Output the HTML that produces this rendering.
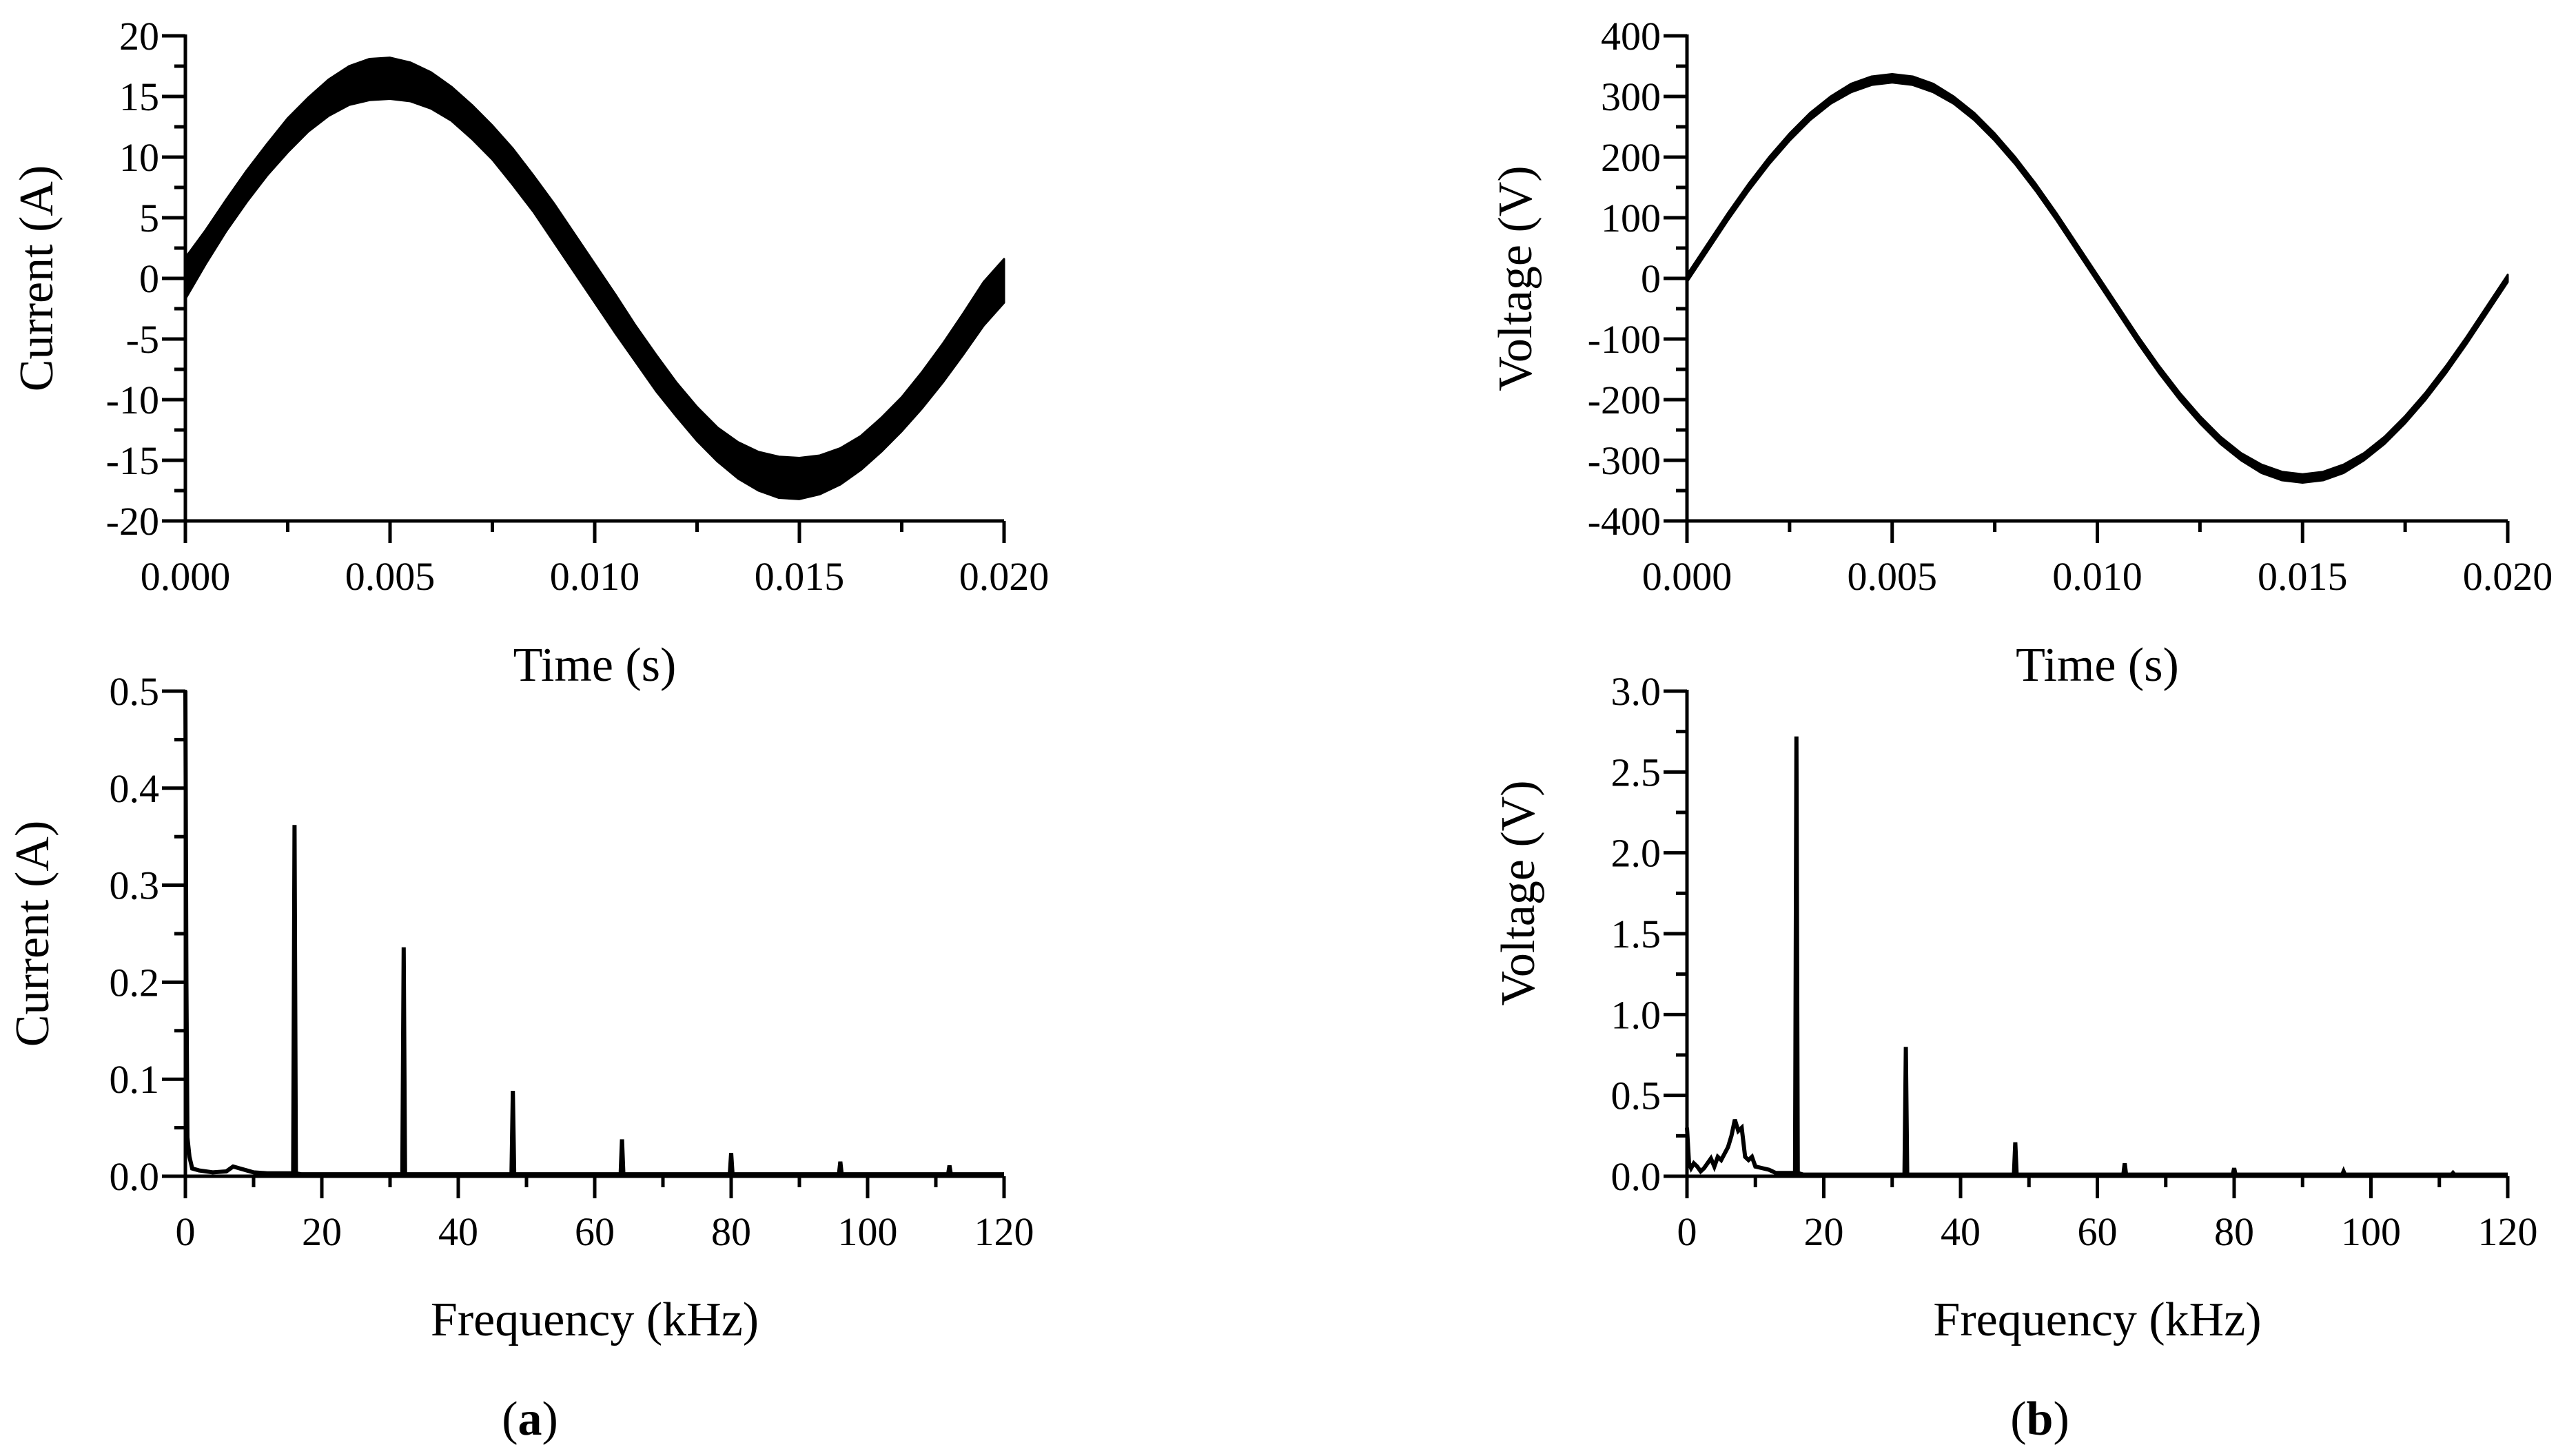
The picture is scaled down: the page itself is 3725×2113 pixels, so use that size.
<!DOCTYPE html>
<html><head><meta charset="utf-8">
<style>
html,body{margin:0;padding:0;background:#fff;}
svg{display:block;}
text{font-family:"Liberation Serif",serif;fill:#000;}
</style></head>
<body>
<svg id="fig" width="3725" height="2113" viewBox="0 0 3725 2113" xmlns="http://www.w3.org/2000/svg"></svg>
<script>
// ---- data ----
const timeStart = 0, timeStep = 0.0005;
const currentCentre = [0,2.6,5.2,7.6,9.8,11.8,13.5,14.9,15.9,16.4,16.5,16.2,15.5,14.4,12.9,11.2,9.2,7.0,4.6,2.1,-0.4,-2.9,-5.4,-7.8,-10.0,-12.0,-13.7,-15.0,-15.9,-16.4,-16.5,-16.2,-15.5,-14.4,-12.9,-11.2,-9.2,-7.0,-4.6,-2.1,-0.2];
const currentHalfBand = [1.7,1.4,1.3,1.3,1.3,1.4,1.4,1.5,1.6,1.7,1.7,1.6,1.5,1.4,1.4,1.4,1.5,1.5,1.6,1.6,1.6,1.6,1.5,1.5,1.4,1.4,1.4,1.5,1.6,1.7,1.7,1.6,1.5,1.4,1.4,1.4,1.5,1.6,1.7,1.8,1.8];
const voltageCentre = [0,51,102,150,194,233,267,294,314,326,330,326,314,294,267,233,194,150,102,51,0,-51,-102,-150,-194,-233,-267,-294,-314,-326,-330,-326,-314,-294,-267,-233,-194,-150,-102,-51,0];
const voltageHalfBand = [6,6,6,6,6,6,6,6,7,7,7,7,7,6,6,6,6,6,6,6,6,6,6,6,6,6,6,6,7,7,7,7,7,6,6,6,6,6,6,6,6];
const curSpecFreq = [0,0.15,0.3,0.6,1,2,4,6,7,8,9,10,12,15.8,16,16.2,17,20,25,31.8,32,32.2,35,40,47.8,48,48.2,55,63.8,64,64.2,70,79.8,80,80.2,90,95.8,96,96.2,105,111.8,112,112.2,120];
const curSpecAmp  = [0.5,0.2,0.04,0.02,0.008,0.006,0.004,0.005,0.01,0.008,0.006,0.004,0.003,0.003,0.362,0.003,0.002,0.002,0.002,0.002,0.236,0.002,0.002,0.002,0.002,0.088,0.002,0.002,0.002,0.038,0.002,0.002,0.002,0.024,0.002,0.002,0.002,0.015,0.002,0.002,0.002,0.011,0.002,0.002];
const volSpecFreq = [0,0.3,0.6,1,1.5,2,2.5,3,3.5,4,4.5,5,5.5,6,6.5,7,7.5,8,8.5,9,9.5,10,11,12,13,15.8,16,16.2,17,20,25,31.8,32,32.2,35,40,47.8,48,48.2,55,63.8,64,64.2,70,79.8,80,80.2,90,95.8,96,96.2,105,111.8,112,112.2,120];
const volSpecAmp  = [0.3,0.08,0.05,0.08,0.06,0.03,0.05,0.08,0.11,0.06,0.12,0.1,0.14,0.18,0.25,0.35,0.28,0.3,0.12,0.1,0.12,0.06,0.05,0.04,0.02,0.02,2.72,0.02,0.01,0.01,0.01,0.01,0.8,0.01,0.01,0.01,0.01,0.21,0.01,0.01,0.01,0.08,0.01,0.01,0.01,0.05,0.01,0.01,0.01,0.03,0.01,0.01,0.01,0.02,0.01,0.01];
const timeTicks = ["0.000","0.005","0.010","0.015","0.020"];
const freqTicks = ["0","20","40","60","80","100","120"];
const curTicks = ["-20","-15","-10","-5","0","5","10","15","20"];
const volTicks = ["-400","-300","-200","-100","0","100","200","300","400"];
const curSpecTicks = ["0.0","0.1","0.2","0.3","0.4","0.5"];
const volSpecTicks = ["0.0","0.5","1.0","1.5","2.0","2.5","3.0"];

const NS="http://www.w3.org/2000/svg";
const svg=document.getElementById('fig');
function el(tag,attrs,parent){const e=document.createElementNS(NS,tag);for(const k in attrs)e.setAttribute(k,attrs[k]);(parent||svg).appendChild(e);return e;}

function panel(o){
  const g=el('g',{});
  
  
  const sx=v=>o.x0+(v-o.xmin)/(o.xmax-o.xmin)*(o.x1-o.x0);
  const sy=v=>o.y0-(v-o.ymin)/(o.ymax-o.ymin)*(o.y0-o.y1);
  o.draw(g,sx,sy);
  const ax=el('path',{d:`M${o.x0},${o.y1-2} L${o.x0},${o.y0} L${o.x1},${o.y0}`,fill:'none',stroke:'#000','stroke-width':5},g);
  
  
  const nx=o.xticks.length;
  for(let i=0;i<nx;i++){
    const v=o.xmin+i*(o.xmax-o.xmin)/(nx-1);
    const X=sx(v);
    el('line',{x1:X,y1:o.y0,x2:X,y2:o.y0+32,stroke:'#000','stroke-width':5},g);
    if(i<nx-1){const Xm=sx(v+(o.xmax-o.xmin)/(nx-1)/2);el('line',{x1:Xm,y1:o.y0,x2:Xm,y2:o.y0+16,stroke:'#000','stroke-width':5},g);}
    const t=el('text',{x:X,y:o.y0+100,'font-size':58,'text-anchor':'middle'},g);t.textContent=o.xticks[i];
    
    
  }
  const ny=o.yticks.length;
  for(let i=0;i<ny;i++){
    const v=o.ymin+i*(o.ymax-o.ymin)/(ny-1);
    const Y=sy(v);
    el('line',{x1:o.x0,y1:Y,x2:o.x0-34,y2:Y,stroke:'#000','stroke-width':5},g);
    if(i<ny-1){const Ym=sy(v+(o.ymax-o.ymin)/(ny-1)/2);el('line',{x1:o.x0,y1:Ym,x2:o.x0-16,y2:Ym,stroke:'#000','stroke-width':5},g);}
    const t=el('text',{x:o.x0-38,y:Y+20,'font-size':58,'text-anchor':'end'},g);t.textContent=o.yticks[i];
    
    
  }
  const xt=el('text',{x:(o.x0+o.x1)/2,y:o.xtY,'font-size':70,'text-anchor':'middle'},g);xt.textContent=o.xtitle;
  
  
  const yt=el('text',{x:0,y:0,'font-size':70,'text-anchor':'middle',transform:`translate(${o.ytX},${o.ytY}) rotate(-90)`},g);yt.textContent=o.ytitle;
  
  
}

function band(centre,half){
  return (g,sx,sy)=>{
    let up=[],lo=[];
    for(let i=0;i<centre.length;i++){const t=timeStart+i*timeStep;up.push(sx(t)+','+sy(centre[i]+half[i]));lo.push(sx(t)+','+sy(centre[i]-half[i]));}
    const p=el('polygon',{points:up.concat(lo.reverse()).join(' '),fill:'#000',stroke:'#000','stroke-width':3,'stroke-linejoin':'round'},g);
    
    
  };
}
function spec(fr,am){
  return (g,sx,sy)=>{
    const pts=fr.map((f,i)=>sx(f)+','+sy(am[i])).join(' ');
    const p=el('polyline',{points:pts,fill:'none',stroke:'#000','stroke-width':6,'stroke-linejoin':'miter'},g);
    
    
  };
}

panel({name:'current-time-chart',x0:269,x1:1457,y0:756,y1:52,xmin:0,xmax:0.02,ymin:-20,ymax:20,xticks:timeTicks,yticks:curTicks,xtitle:'Time (s)',ytitle:'Current (A)',xtY:988,ytX:76,ytY:404,draw:band(currentCentre,currentHalfBand)});
panel({name:'voltage-time-chart',x0:2448,x1:3639,y0:756,y1:52,xmin:0,xmax:0.02,ymin:-400,ymax:400,xticks:timeTicks,yticks:volTicks,xtitle:'Time (s)',ytitle:'Voltage (V)',xtY:988,ytX:2222,ytY:404,draw:band(voltageCentre,voltageHalfBand)});
panel({name:'current-spectrum-chart',x0:269,x1:1457,y0:1707,y1:1003,xmin:0,xmax:120,ymin:0,ymax:0.5,xticks:freqTicks,yticks:curSpecTicks,xtitle:'Frequency (kHz)',ytitle:'Current (A)',xtY:1938,ytX:70,ytY:1355,draw:spec(curSpecFreq,curSpecAmp)});
panel({name:'voltage-spectrum-chart',x0:2448,x1:3639,y0:1707,y1:1003,xmin:0,xmax:120,ymin:0,ymax:3,xticks:freqTicks,yticks:volSpecTicks,xtitle:'Frequency (kHz)',ytitle:'Voltage (V)',xtY:1938,ytX:2226,ytY:1296,draw:spec(volSpecFreq,volSpecAmp)});

const la=el('text',{x:769,y:2082,'font-size':70,'text-anchor':'middle'});
la.innerHTML='(<tspan font-weight="bold">a</tspan>)';


const lb=el('text',{x:2960,y:2082,'font-size':70,'text-anchor':'middle'});
lb.innerHTML='(<tspan font-weight="bold">b</tspan>)';


</script>
</body></html>
